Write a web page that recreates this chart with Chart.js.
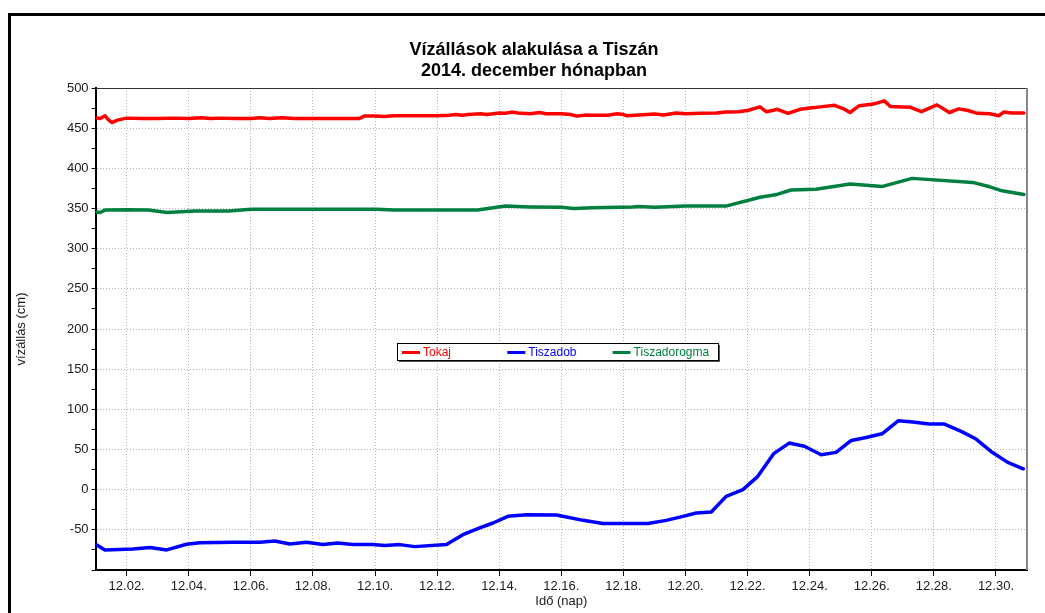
<!DOCTYPE html>
<html>
<head>
<meta charset="utf-8">
<script src="https://cdn.jsdelivr.net/npm/chart.js@4/dist/chart.umd.min.js"></script>
<style>
    body { margin: 0; background: #fff; }
    #chart { display: block; }
</style>
</head>
<body>
<canvas id="chart" width="1045" height="613"></canvas>
<script>
// x = day of December 2014, y = water level in cm
const tokajDay = [1.0, 1.15, 1.3, 1.4, 1.52, 1.7, 2.0, 2.5, 3.0, 3.5, 4.0, 4.4, 4.7, 5.0, 5.5, 6.0, 6.3, 6.6, 7.0, 7.4,
    7.8, 8.5, 9.0, 9.5, 9.65, 10.0, 10.3, 10.6, 11.0, 11.5, 12.0, 12.4, 12.6, 12.8, 13.0, 13.4, 13.6, 14.0, 14.2, 14.4,
    14.6, 15.0, 15.3, 15.5, 16.0, 16.3, 16.5, 16.8, 17.0, 17.5, 17.8, 18.0, 18.1, 18.5, 19.0, 19.3, 19.7, 20.0, 20.5, 21.0,
    21.3, 21.7, 22.0, 22.4, 22.6, 22.8, 22.96, 23.3, 23.7, 24.0, 24.35, 24.8, 25.1, 25.3, 25.6, 26.05, 26.4, 26.6, 27.0, 27.25,
    27.6, 28.1, 28.5, 28.8, 29.1, 29.4, 29.8, 30.1, 30.25, 30.5, 30.9];
const tokajCm = [463, 462, 465.5, 461, 457, 460, 462.5, 462, 462, 462.5, 462, 463, 462, 462.5, 462, 462, 463, 462, 463, 462,
    462, 462, 462, 462, 465, 465, 464.5, 465.5, 465.5, 465.5, 465.5, 466, 467, 466, 467, 468, 467, 469, 468.5, 470,
    469, 468, 469.5, 468, 468, 467, 465, 466.5, 466, 466, 468, 467, 465.5, 466.5, 467.5, 466.5, 469, 468, 468.5, 469,
    470, 470.5, 472, 476.5, 470.5, 472, 473.5, 468.5, 473.5, 475, 476.5, 478.5, 474, 469.5, 478, 480, 484, 477, 476.5, 476,
    470.5, 479, 469.5, 474, 472, 468.5, 468, 465.5, 470, 469, 469];

const tiszadobDay = [1.04, 1.3, 2.2, 2.75, 3.29, 3.93, 4.36, 5.42, 6.29, 6.77, 7.26, 7.79, 8.32, 8.8, 9.28, 9.93, 10.31, 10.8,
    11.28, 12.3, 12.83, 13.37, 13.8, 14.28, 14.88, 15.84, 16.05, 16.7, 17.34, 18.79, 19.38, 19.92, 20.35, 20.83, 21.31,
    21.85, 22.33, 22.84, 23.34, 23.83, 24.37, 24.85, 25.34, 25.82, 26.33, 26.86, 27.32, 27.85, 28.34, 28.88, 29.36,
    29.84, 30.38, 30.88];
const tiszadobCm = [-69, -75, -74, -72, -75, -68, -66, -65.5, -65.5, -64, -67.6, -65.5, -68.3, -66.4, -68.3, -68.3, -69.6, -68.4,
    -70.9, -68.3, -56, -47.7, -41.5, -33.2, -31.1, -31.5, -33.2, -38.2, -42, -42, -38.2, -33.2, -29, -27.8, -8.3,
    0, 16.6, 44.8, 58, 54, 43.5, 46.4, 61.3, 65, 69.6, 85.8, 84.2, 81.7, 81.7, 72.5, 63,
    47.6, 34, 26];

const tiszadorogmaDay = [1.0, 1.15, 1.3, 2.0, 2.7, 3.3, 4.2, 5.3, 6.0, 10.05, 10.6, 13.3, 14.2, 15.0, 16.0, 16.4, 17.0, 18.3,
    18.5, 19.0, 20.0, 21.3, 22.4, 22.9, 23.4, 24.2, 25.3, 26.35, 27.3, 29.25, 29.8, 30.2, 30.9];
const tiszadorogmaCm = [345.5, 345, 348, 348.5, 348, 345, 347, 347, 349, 349, 348, 348, 353, 352, 351.5, 350, 351, 352,
    352.5, 351.5, 353, 353, 364, 367, 373, 374, 380.5, 377.5, 387.5, 382.5, 377, 372, 367.5];

const seriesNames = ['Tokaj', 'Tiszadob', 'Tiszadorogma'];
const seriesColors = ['#ff0000', '#0000ff', '#00803f'];
const xTicks = [2, 4, 6, 8, 10, 12, 14, 16, 18, 20, 22, 24, 26, 28, 30];
const yTicks = [-50, 0, 50, 100, 150, 200, 250, 300, 350, 400, 450, 500];

function toPoints(days, values) {
    return days.map((d, i) => ({ x: d, y: values[i] }));
}

const frameAndText = {
    id: 'frameAndText',
    beforeDraw(chart) {
        const ctx = chart.ctx;
        ctx.save();
        ctx.fillStyle = '#fff';
        ctx.fillRect(0, 0, chart.width, chart.height);
        ctx.fillStyle = '#000';
        ctx.fillRect(8, 13, 3, chart.height - 13);
        ctx.fillRect(8, 13, chart.width - 8, 3);

        ctx.textAlign = 'center';
        ctx.textBaseline = 'middle';
        ctx.font = 'bold 18px "Liberation Sans", Arial, sans-serif';
        ctx.fillText('Vízállások alakulása a Tiszán', 534, 50, 256);
        ctx.fillText('2014. december hónapban', 534, 71, 242);
        ctx.restore();
    },
    afterDatasetsDraw(chart) {
        const ctx = chart.ctx;
        const area = chart.chartArea;
        ctx.save();
        // top and right edges of the plot
        ctx.strokeStyle = '#333';
        ctx.lineWidth = 1;
        ctx.beginPath();
        ctx.moveTo(area.left, area.top + 0.5);
        ctx.lineTo(area.right, area.top + 0.5);
        ctx.stroke();
        ctx.strokeStyle = '#888';
        ctx.lineWidth = 2;
        ctx.beginPath();
        ctx.moveTo(area.right, area.top);
        ctx.lineTo(area.right, area.bottom);
        ctx.stroke();

        // legend box inside the plot
        const bx = 397, by = 343, bw = 321, bh = 17;
        ctx.fillStyle = '#555';
        ctx.fillRect(bx + 2, by + 2, bw, bh);
        ctx.fillStyle = '#fff';
        ctx.fillRect(bx, by, bw, bh);
        ctx.strokeStyle = '#000';
        ctx.lineWidth = 1;
        ctx.strokeRect(bx + 0.5, by + 0.5, bw, bh);
        ctx.font = '12px "Liberation Sans", Arial, sans-serif';
        ctx.textAlign = 'left';
        ctx.textBaseline = 'middle';
        chart.data.datasets.forEach((ds, i) => {
            const lx = 402 + i * 105.3;
            ctx.strokeStyle = ds.borderColor;
            ctx.lineWidth = 3;
            ctx.beginPath();
            ctx.moveTo(lx, by + 9.5);
            ctx.lineTo(lx + 18, by + 9.5);
            ctx.stroke();
            ctx.fillStyle = ds.borderColor;
            ctx.fillText(ds.label, lx + 21, by + 9.5);
        });
        ctx.restore();
    }
};

const ctx = document.getElementById('chart').getContext('2d');
new Chart(ctx, {
    type: 'line',
    data: {
        datasets: [
            { label: seriesNames[0], data: toPoints(tokajDay, tokajCm), borderColor: seriesColors[0] },
            { label: seriesNames[1], data: toPoints(tiszadobDay, tiszadobCm), borderColor: seriesColors[1] },
            { label: seriesNames[2], data: toPoints(tiszadorogmaDay, tiszadorogmaCm), borderColor: seriesColors[2] }
        ]
    },
    options: {
        responsive: false,
        animation: false,
        layout: { padding: { left: 10, right: 18, top: 88, bottom: 0 } },
        elements: {
            line: { borderWidth: 3.5, tension: 0, borderJoinStyle: 'round', borderCapStyle: 'round' },
            point: { radius: 0 }
        },
        plugins: {
            legend: { display: false },
            tooltip: { enabled: false }
        },
        scales: {
            x: {
                type: 'linear',
                min: 1,
                max: 31,
                afterBuildTicks: (scale) => { scale.ticks = xTicks.map(v => ({ value: v })); },
                afterFit: (scale) => { scale.height = 43; },
                ticks: {
                    color: '#1a1a1a',
                    padding: 3,
                    maxRotation: 0,
                    font: { family: '"Liberation Sans", Arial, sans-serif', size: 13 },
                    callback: (v) => '12.' + String(v).padStart(2, '0') + '.'
                },
                grid: { color: '#b4b4b4', lineWidth: 1, tickLength: 6, tickColor: '#000' },
                border: { color: '#000', width: 2, dash: [1, 2] },
                title: {
                    display: true,
                    text: 'Idő (nap)',
                    color: '#1a1a1a',
                    padding: { top: 4, bottom: 4 },
                    font: { family: '"Liberation Sans", Arial, sans-serif', size: 13 }
                }
            },
            y: {
                min: -100,
                max: 500,
                afterBuildTicks: (scale) => {
                    const t = [];
                    for (let v = -100; v <= 500; v += 25) t.push({ value: v });
                    scale.ticks = t;
                },
                afterFit: (scale) => { scale.width = 85.6; },
                ticks: {
                    color: '#1a1a1a',
                    padding: 3,
                    font: { family: '"Liberation Sans", Arial, sans-serif', size: 13 },
                    callback: (v) => yTicks.includes(v) ? String(v) : ''
                },
                grid: {
                    color: (c) => (c.tick && c.tick.value % 50 === 0) ? '#b4b4b4' : 'rgba(0,0,0,0)',
                    lineWidth: 1,
                    tickLength: 4,
                    tickColor: '#000'
                },
                border: { color: '#000', width: 2, dash: [1, 2] },
                title: {
                    display: true,
                    text: 'vízállás (cm)',
                    color: '#1a1a1a',
                    padding: { top: 4, bottom: 4 },
                    font: { family: '"Liberation Sans", Arial, sans-serif', size: 13 }
                }
            }
        }
    },
    plugins: [frameAndText]
});
</script>
</body>
</html>
